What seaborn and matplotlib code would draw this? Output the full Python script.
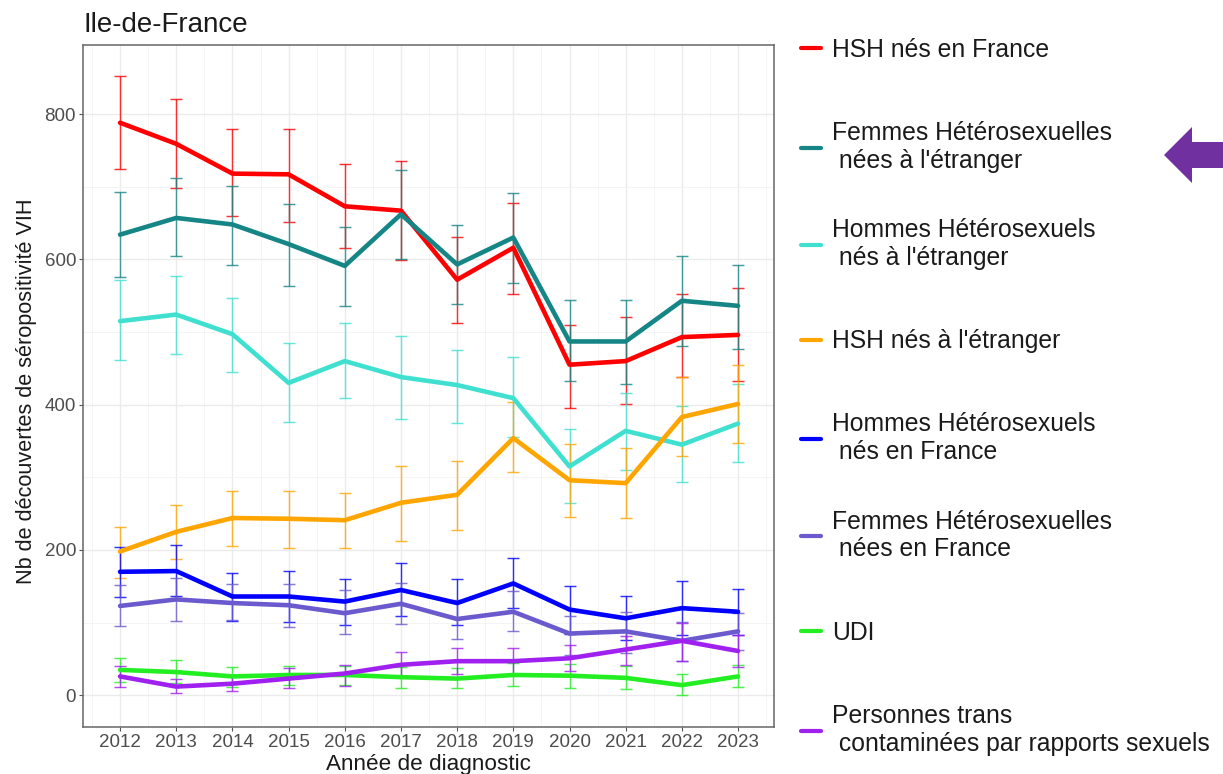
import numpy as np
import pandas as pd
import matplotlib
matplotlib.use("Agg")
import matplotlib.pyplot as plt
from matplotlib.lines import Line2D
from matplotlib.patches import Polygon
from matplotlib.ticker import MultipleLocator
import seaborn as sns

# --- donnees ---
annees = list(range(2012, 2024))

groupes = [
    "HSH nés en France",
    "Femmes Hétérosexuelles\n nées à l'étranger",
    "Hommes Hétérosexuels\n nés à l'étranger",
    "HSH nés à l'étranger",
    "Hommes Hétérosexuels\n nés en France",
    "Femmes Hétérosexuelles\n nées en France",
    "UDI",
    "Personnes trans\n contaminées par rapports sexuels",
]
couleurs = ["#FF0000", "#168585", "#40E0D0", "#FFA500",
            "#0000FF", "#6A5ACD", "#22EE22", "#A020F0"]

hsh_fr = [788, 759, 718, 717, 673, 667, 572, 616, 455, 460, 493, 496]
hsh_fr_bas = [725, 698, 659, 652, 615, 599, 512, 552, 395, 401, 438, 433]
hsh_fr_haut = [853, 821, 779, 780, 731, 735, 631, 678, 510, 520, 552, 560]

fem_etr = [634, 657, 648, 621, 591, 662, 593, 630, 487, 487, 543, 536]
fem_etr_bas = [576, 604, 592, 563, 536, 601, 539, 568, 432, 428, 481, 477]
fem_etr_haut = [693, 712, 701, 676, 645, 723, 647, 691, 544, 544, 604, 592]

hom_etr = [515, 524, 497, 430, 460, 438, 427, 409, 315, 364, 345, 374]
hom_etr_bas = [461, 470, 445, 376, 409, 380, 375, 355, 264, 310, 294, 321]
hom_etr_haut = [571, 577, 547, 485, 512, 495, 475, 465, 366, 416, 398, 429]

hsh_etr = [198, 225, 244, 243, 241, 265, 276, 354, 296, 292, 383, 401]
hsh_etr_bas = [161, 187, 205, 203, 203, 213, 227, 308, 246, 244, 329, 347]
hsh_etr_haut = [232, 262, 281, 281, 279, 316, 323, 403, 346, 340, 438, 455]

hom_fr = [170, 171, 136, 136, 129, 145, 127, 154, 118, 106, 120, 115]
hom_fr_bas = [136, 137, 102, 101, 97, 109, 97, 120, 85, 76, 83, 83]
hom_fr_haut = [204, 207, 168, 171, 160, 182, 160, 189, 151, 137, 157, 147]

fem_fr = [123, 132, 127, 124, 113, 126, 105, 115, 85, 88, 75, 88]
fem_fr_bas = [95, 102, 104, 94, 84, 98, 77, 88, 55, 58, 47, 62]
fem_fr_haut = [152, 161, 153, 153, 145, 154, 131, 143, 109, 114, 101, 113]

udi = [35, 32, 26, 28, 28, 25, 23, 28, 27, 24, 14, 26]
udi_bas = [19, 17, 11, 14, 14, 10, 10, 13, 10, 9, 0, 11]
udi_haut = [51, 48, 39, 40, 40, 39, 37, 44, 43, 40, 29, 42]

trans = [26, 12, 16, 23, 30, 42, 47, 47, 51, 63, 75, 61]
trans_bas = [11, 3, 6, 10, 13, 26, 30, 30, 34, 42, 47, 39]
trans_haut = [40, 22, 28, 37, 42, 59, 65, 65, 69, 82, 100, 83]

series = [
    (hsh_fr, hsh_fr_bas, hsh_fr_haut),
    (fem_etr, fem_etr_bas, fem_etr_haut),
    (hom_etr, hom_etr_bas, hom_etr_haut),
    (hsh_etr, hsh_etr_bas, hsh_etr_haut),
    (hom_fr, hom_fr_bas, hom_fr_haut),
    (fem_fr, fem_fr_bas, fem_fr_haut),
    (udi, udi_bas, udi_haut),
    (trans, trans_bas, trans_haut),
]

rows = []
for g, (v, lo, hi) in zip(groupes, series):
    for a, x, l, h in zip(annees, v, lo, hi):
        rows.append({"annee": a, "groupe": g, "nb": x, "bas": l, "haut": h})
df = pd.DataFrame(rows)

# --- style ---
sns.set_theme(style="white")
plt.rcParams['font.family'] = ['Liberation Sans', 'DejaVu Sans']

W, H = 1223, 774
fig = plt.figure(figsize=(W / 100, H / 100), dpi=100)
ax = fig.add_axes([83 / W, (H - 727) / H, (774 - 83) / W, (727 - 45) / H])

# barres d'erreur
for g, c in zip(groupes, couleurs):
    d = df[df["groupe"] == g]
    ax.errorbar(d["annee"], d["nb"], yerr=[d["nb"] - d["bas"], d["haut"] - d["nb"]],
                fmt="none", ecolor=c, elinewidth=1.05, capsize=4, capthick=1.05,
                alpha=0.8, zorder=2)

sns.lineplot(data=df, x="annee", y="nb", hue="groupe", hue_order=groupes,
             palette=couleurs, linewidth=3.3, errorbar=None, legend=False,
             ax=ax, zorder=3)

ax.set_xlim(2011.34, 2023.64)
ax.set_ylim(-43.6, 895)
ax.set_xticks(annees)
ax.set_yticks([0, 200, 400, 600, 800])
ax.xaxis.set_minor_locator(MultipleLocator(0.5))
ax.yaxis.set_minor_locator(MultipleLocator(100))
ax.grid(which="major", color="#EBEBEB", linewidth=1.0)
ax.grid(which="minor", color="#F3F3F3", linewidth=0.6)
ax.set_axisbelow(True)
ax.tick_params(axis="both", which="major", length=3, width=0.8, color="#555555",
               labelsize=13.5, labelcolor="#4D4D4D", pad=2, bottom=True, left=True)
ax.tick_params(which="minor", length=0)
for s in ax.spines.values():
    s.set_color("#666666")
    s.set_linewidth(1.1)

ax.set_xlabel("Année de diagnostic", fontsize=16.2, color="#1A1A1A", labelpad=2)
ax.set_ylabel("Nb de découvertes de séropositivité VIH", fontsize=15.6,
              color="#1A1A1A", labelpad=4)
ax.yaxis.set_label_coords(-0.067, 0.493)
ax.set_title("Ile-de-France", loc="left", fontsize=20, color="#1A1A1A", pad=9)

# legende : une entree par groupe, espacement regulier
for i, (g, c) in enumerate(zip(groupes, couleurs)):
    h = Line2D([], [], color=c, lw=3)
    fig.legend([h], [g], loc="center left",
               bbox_to_anchor=(801 / W, 1 - (50 + 97.1 * i) / H),
               frameon=False, borderpad=0, borderaxespad=0,
               handlelength=0.8, handletextpad=0.44, fontsize=17.8,
               labelcolor="#1A1A1A")

# fleche violette
pts = [(1164, 155), (1192, 127), (1192, 142), (1223, 142),
       (1223, 168), (1192, 168), (1192, 183)]
fig.patches.append(Polygon([(x / W, 1 - y / H) for x, y in pts], closed=True,
                           transform=fig.transFigure, facecolor="#7030A0",
                           edgecolor="none"))

fig.savefig("out.png", dpi=100)
